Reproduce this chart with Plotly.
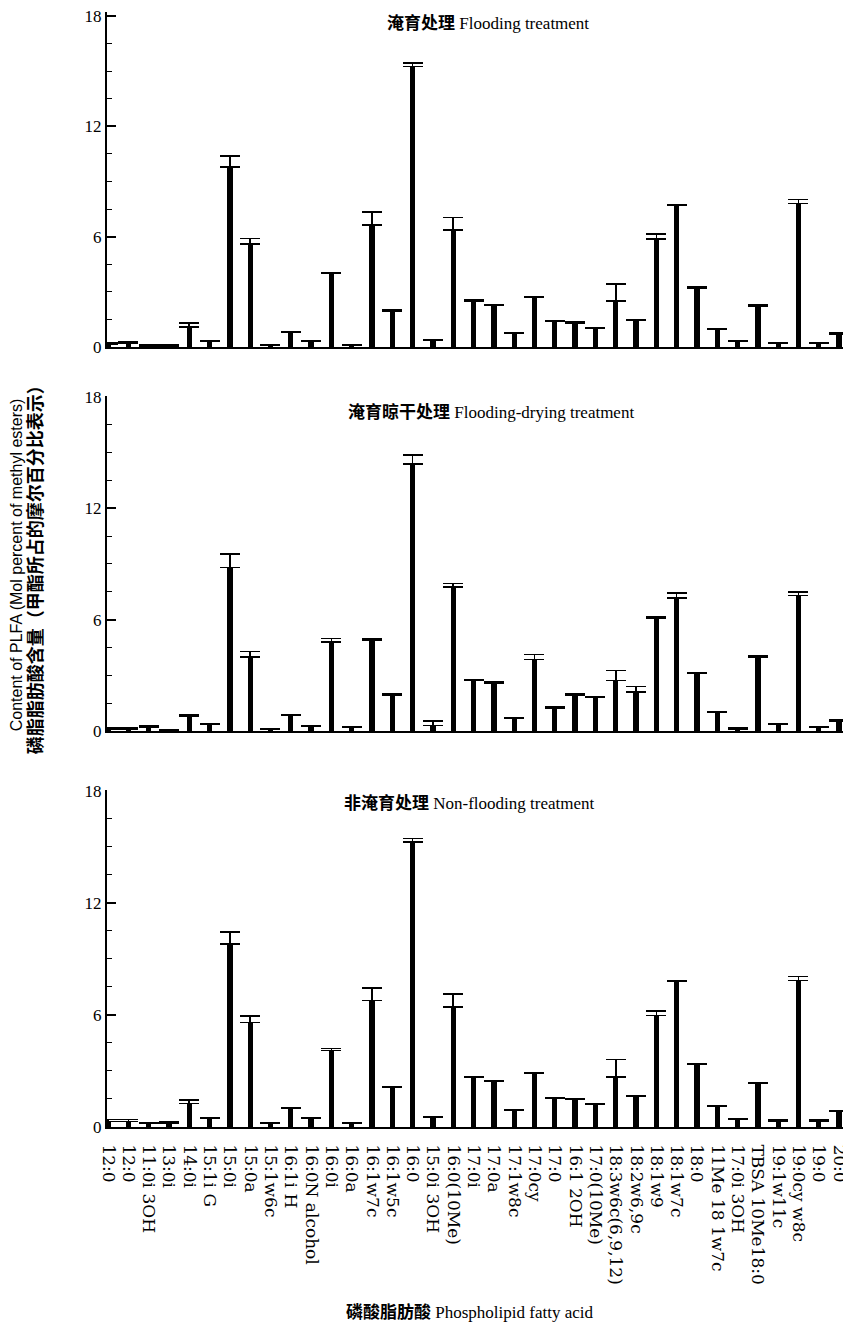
import plotly.graph_objects as go

categories = ["12:0", "12:0", "11:0i 3OH", "13:0i", "14:0i", "15:1i G", "15:0i", "15:0a",
              "15:1w6c", "16:1i H", "16:0N alcohol", "16:0i", "16:0a", "16:1w7c", "16:1w5c",
              "16:0", "15:0i 3OH", "16:0(10Me)", "17:0i", "17:0a", "17:1w8c", "17:0cy", "17:0",
              "16:1 2OH", "17:0(10Me)", "18:3w6c(6,9,12)", "18:2w6,9c", "18:1w9", "18:1w7c",
              "18:0", "11Me 18 1w7c", "17:0i 3OH", "TBSA 10Me18:0", "19:1w11c", "19:0cy w8c",
              "19:0", "20:0"]

flooding_vals = [0.15, 0.2, 0.05, 0.05, 1.1, 0.3, 9.8, 5.6, 0.08, 0.78, 0.3, 4.0, 0.08, 6.65,
                 1.95, 15.25, 0.35, 6.35, 2.5, 2.27, 0.75, 2.7, 1.38, 1.3, 1.0, 2.5, 1.45, 5.88,
                 7.7, 3.2, 0.95, 0.3, 2.22, 0.18, 7.8, 0.18, 0.7]
flooding_err = [0.1, 0.07, 0.05, 0.05, 0.2, 0.05, 0.6, 0.3, 0.04, 0.05, 0.03, 0.05, 0.03, 0.68,
                0.05, 0.2, 0.05, 0.7, 0.05, 0.05, 0.04, 0.05, 0.05, 0.05, 0.05, 0.93, 0.05, 0.27,
                0.05, 0.05, 0.05, 0.04, 0.05, 0.04, 0.22, 0.04, 0.05]

drying_vals = [0.12, 0.12, 0.2, 0.05, 0.8, 0.35, 8.8, 4.0, 0.1, 0.85, 0.25, 4.8, 0.2, 4.9,
               1.95, 14.4, 0.3, 7.75, 2.75, 2.6, 0.7, 3.85, 1.25, 1.95, 1.8, 2.72, 2.1, 6.1,
               7.15, 3.1, 1.0, 0.12, 4.0, 0.35, 7.3, 0.2, 0.55]
drying_err = [0.06, 0.06, 0.07, 0.03, 0.08, 0.05, 0.72, 0.28, 0.03, 0.04, 0.03, 0.18, 0.03, 0.08,
              0.03, 0.47, 0.23, 0.2, 0.03, 0.03, 0.03, 0.27, 0.03, 0.03, 0.04, 0.54, 0.3, 0.04,
              0.28, 0.04, 0.03, 0.04, 0.03, 0.05, 0.2, 0.05, 0.03]

nonflood_vals = [0.3, 0.3, 0.18, 0.2, 1.25, 0.45, 9.8, 5.6, 0.22, 1.0, 0.45, 4.1, 0.22, 6.78,
                 2.12, 15.28, 0.5, 6.43, 2.65, 2.43, 0.9, 2.87, 1.55, 1.47, 1.2, 2.69, 1.63, 5.98,
                 7.8, 3.35, 1.1, 0.42, 2.35, 0.3, 7.85, 0.3, 0.82]
nonflood_err = [0.1, 0.1, 0.05, 0.08, 0.19, 0.05, 0.66, 0.36, 0.03, 0.03, 0.05, 0.1, 0.03, 0.66,
                0.04, 0.17, 0.05, 0.71, 0.04, 0.03, 0.04, 0.03, 0.03, 0.03, 0.03, 0.93, 0.03, 0.23,
                0.03, 0.03, 0.04, 0.04, 0.03, 0.07, 0.22, 0.07, 0.03]

panel_titles = ["<b>淹育处理</b> Flooding treatment",
                "<b>淹育晾干处理</b> Flooding-drying treatment",
                "<b>非淹育处理</b> Non-flooding treatment"]

positions = list(range(len(categories)))
SERIF = "Liberation Serif, Times New Roman, Noto Sans CJK SC, serif"
WIDE_SERIF = "DejaVu Serif, serif"

fig = go.Figure()
series = [(flooding_vals, flooding_err), (drying_vals, drying_err), (nonflood_vals, nonflood_err)]
for i, (vals, errs) in enumerate(series):
    suffix = "" if i == 0 else str(i + 1)
    fig.add_trace(go.Bar(
        x=positions, y=vals, width=0.26,
        marker=dict(color="black", line=dict(width=0)),
        error_y=dict(type="data", symmetric=False, array=errs,
                     arrayminus=[0] * len(errs), color="black", thickness=1.6, width=10),
        xaxis="x" + suffix, yaxis="y" + suffix, showlegend=False,
    ))

domains = [[0.6996, 1.0], [0.3552, 0.6556], [0.0, 0.3022]]
y_tops = [18.22, 18.05, 18.05]
title_pos = [(0.5155, 0.990), (0.52, 0.641), (0.49, 0.2906)]

# The page body keeps an 8px default margin, so the figure is 8px smaller than the window.
layout = dict(
    width=843, height=1322,
    margin=dict(l=99, r=5, t=4, b=203, autoexpand=False),
    plot_bgcolor="white", paper_bgcolor="white",
    font=dict(family=SERIF, color="black", size=16),
    bargap=0,
)
annotations = []
for i in range(3):
    suffix = "" if i == 0 else str(i + 1)
    xa = dict(
        domain=[0, 1], range=[-0.05, 36.34], anchor="y" + suffix, automargin=False,
        showline=True, linewidth=2, linecolor="black", showgrid=False, zeroline=False,
        ticks="", tickmode="array", tickvals=positions,
        ticktext=categories if i == 2 else [""] * len(categories),
        showticklabels=(i == 2), tickangle=90, ticklabelstandoff=12,
        ticklabeloverflow="allow",
        tickfont=dict(family=WIDE_SERIF, size=17, color="black"),
    )
    ya = dict(
        domain=domains[i], range=[0, y_tops[i]], anchor="x" + suffix, automargin=False,
        showline=True, linewidth=2, linecolor="black", showgrid=False, zeroline=False,
        ticks="inside", ticklen=9, tickwidth=2, tickcolor="black",
        tickmode="array", tickvals=[0, 6, 12, 18], ticklabeloverflow="allow",
        minor=dict(tickmode="array", tickvals=[1.5, 3, 4.5, 7.5, 9, 10.5, 13.5, 15, 16.5],
                   ticks="inside", ticklen=5, tickwidth=1, tickcolor="black"),
        tickfont=dict(family=SERIF, size=17, color="black"),
    )
    layout["xaxis" + suffix] = xa
    layout["yaxis" + suffix] = ya
    annotations.append(dict(
        text=panel_titles[i], xref="paper", yref="paper",
        x=title_pos[i][0], y=title_pos[i][1], xanchor="center", yanchor="middle",
        showarrow=False, font=dict(family=SERIF, size=17, color="black"),
    ))

annotations.append(dict(
    text="Content of PLFA (Mol percent of methyl esters)", xref="paper", yref="paper",
    x=-0.1228, y=0.504, xanchor="center", yanchor="middle", textangle=-90,
    showarrow=False, font=dict(family="Liberation Sans, Arial, sans-serif", size=16, color="black"),
))
annotations.append(dict(
    text="<b>磷脂脂肪酸含量（甲酯所占的摩尔百分比表示）</b>", xref="paper", yref="paper",
    x=-0.0985, y=0.504, xanchor="center", yanchor="middle", textangle=-90,
    showarrow=False, font=dict(family="Noto Sans CJK SC, sans-serif", size=18, color="black"),
))
annotations.append(dict(
    text="<b>磷酸脂肪酸</b> Phospholipid fatty acid", xref="paper", yref="paper",
    x=0.49, y=-0.166, xanchor="center", yanchor="middle",
    showarrow=False, font=dict(family=SERIF, size=17, color="black"),
))
layout["annotations"] = annotations
fig.update_layout(**layout)

fig.write_html("out.html")
